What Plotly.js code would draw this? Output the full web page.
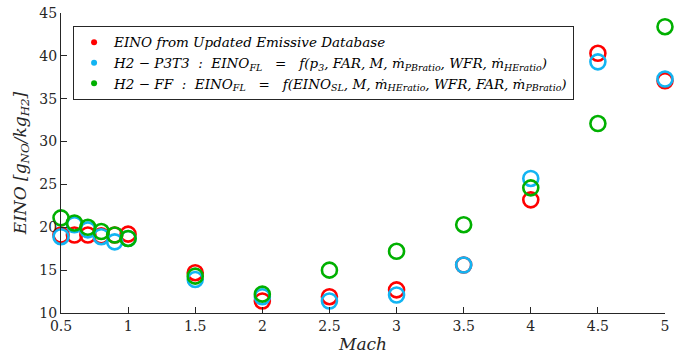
<!DOCTYPE html>
<html><head><meta charset="utf-8">
<script src="https://cdn.plot.ly/plotly-3.0.1.min.js"></script>
<style>html,body{margin:0;padding:0;background:#fff}#chart{width:685px;height:363px}</style>
</head><body><div id="chart"></div>
<script>
const mach = [0.5, 0.6, 0.7, 0.8, 0.9, 1.0, 1.5, 2.0, 2.5, 3.0, 3.5, 4.0, 4.5, 5.0];
const einoDatabase = [19.1, 19.1, 19.1, 19.0, 19.1, 19.2, 14.7, 11.4, 11.9, 12.7, 15.6, 23.2, 40.3, 37.1];
const einoP3T3 = [18.9, 20.3, 19.7, 18.9, 18.3, 18.7, 13.9, 11.9, 11.4, 12.1, 15.6, 25.7, 39.3, 37.3];
const einoFF = [21.1, 20.5, 20.0, 19.5, 19.1, 18.7, 14.3, 12.2, 15.0, 17.2, 20.3, 24.6, 32.1, 43.4];
const sp = '\u00A0';
const S2 = sp + sp, S3 = sp + sp + sp;
const seriesNames = [
  'EINO' + sp + 'from' + sp + 'Updated' + sp + 'Emissive' + sp + 'Database',
  'H2 − P3T3' + S2 + ':' + S2 + 'EINO<sub>FL</sub>' + S3 + '=' + S3 + 'f(p<sub>3</sub>,' + sp + 'FAR,' + sp + 'M,' + sp + 'ṁ<sub>PBratio</sub>,' + sp + 'WFR,' + sp + 'ṁ<sub>HEratio</sub>)',
  'H2 − FF' + S2 + ':' + S2 + 'EINO<sub>FL</sub>' + S3 + '=' + S3 + 'f(EINO<sub>SL</sub>,' + sp + 'M,' + sp + 'ṁ<sub>HEratio</sub>,' + sp + 'WFR,' + sp + 'FAR,' + sp + 'ṁ<sub>PBratio</sub>)'
];
const colors = ['#ff0000', '#12b4f2', '#00b000'];
const series = [einoDatabase, einoP3T3, einoFF];

const traces = [];
series.forEach((ys, i) => {
  traces.push({
    x: mach, y: ys, type: 'scatter', mode: 'markers', showlegend: false, cliponaxis: false,
    marker: {symbol: 'circle-open', size: 15, color: colors[i], line: {width: 2.6, color: colors[i]}},
    hoverinfo: 'x+y'
  });
});
series.forEach((ys, i) => {
  traces.push({
    x: [null], y: [null], type: 'scatter', mode: 'markers', name: seriesNames[i],
    marker: {symbol: 'circle', size: 6, color: colors[i]}
  });
});

const FAM = 'DejaVu Serif';
const fnt = {family: FAM, size: 14, color: '#262626'};
const layout = {
  width: 685, height: 363,
  margin: {l: 61, r: 20, t: 13, b: 50},
  paper_bgcolor: '#fff', plot_bgcolor: '#fff',
  font: {family: FAM, size: 14, color: '#262626'},
  xaxis: {
    range: [0.5, 5], tickvals: [0.5,1,1.5,2,2.5,3,3.5,4,4.5,5], ticktext: ['0.5','1','1.5','2','2.5','3','3.5','4','4.5','5'],
    ticks: 'inside', ticklen: 6, tickcolor: '#262626', showline: true, linecolor: '#262626', linewidth: 1,
    showgrid: false, zeroline: false, tickfont: fnt,
    title: {text: '<i>Mach</i>', font: {family: FAM, size: 17, color: '#262626'}, standoff: 5}
  },
  yaxis: {
    range: [10, 45], tickvals: [10,15,20,25,30,35,40,45],
    ticks: 'inside', ticklen: 6, tickcolor: '#262626', showline: true, linecolor: '#262626', linewidth: 1,
    showgrid: false, zeroline: false, tickfont: fnt,
    title: {text: '<i>EINO [g<sub>NO</sub>/kg<sub>H2</sub>]</i>', font: {family: FAM, size: 17, color: '#262626'}, standoff: 8}
  },
  legend: {
    x: 0.02, y: 0.957, xanchor: 'left', yanchor: 'top',
    bgcolor: '#fff', bordercolor: '#262626', borderwidth: 1,
    font: {family: FAM, size: 13.5, color: '#000', style: 'italic'},
    tracegroupgap: 0, itemwidth: 30
  }
};
Plotly.newPlot('chart', traces, layout, {displayModeBar: false, staticPlot: true});
</script></body></html>
